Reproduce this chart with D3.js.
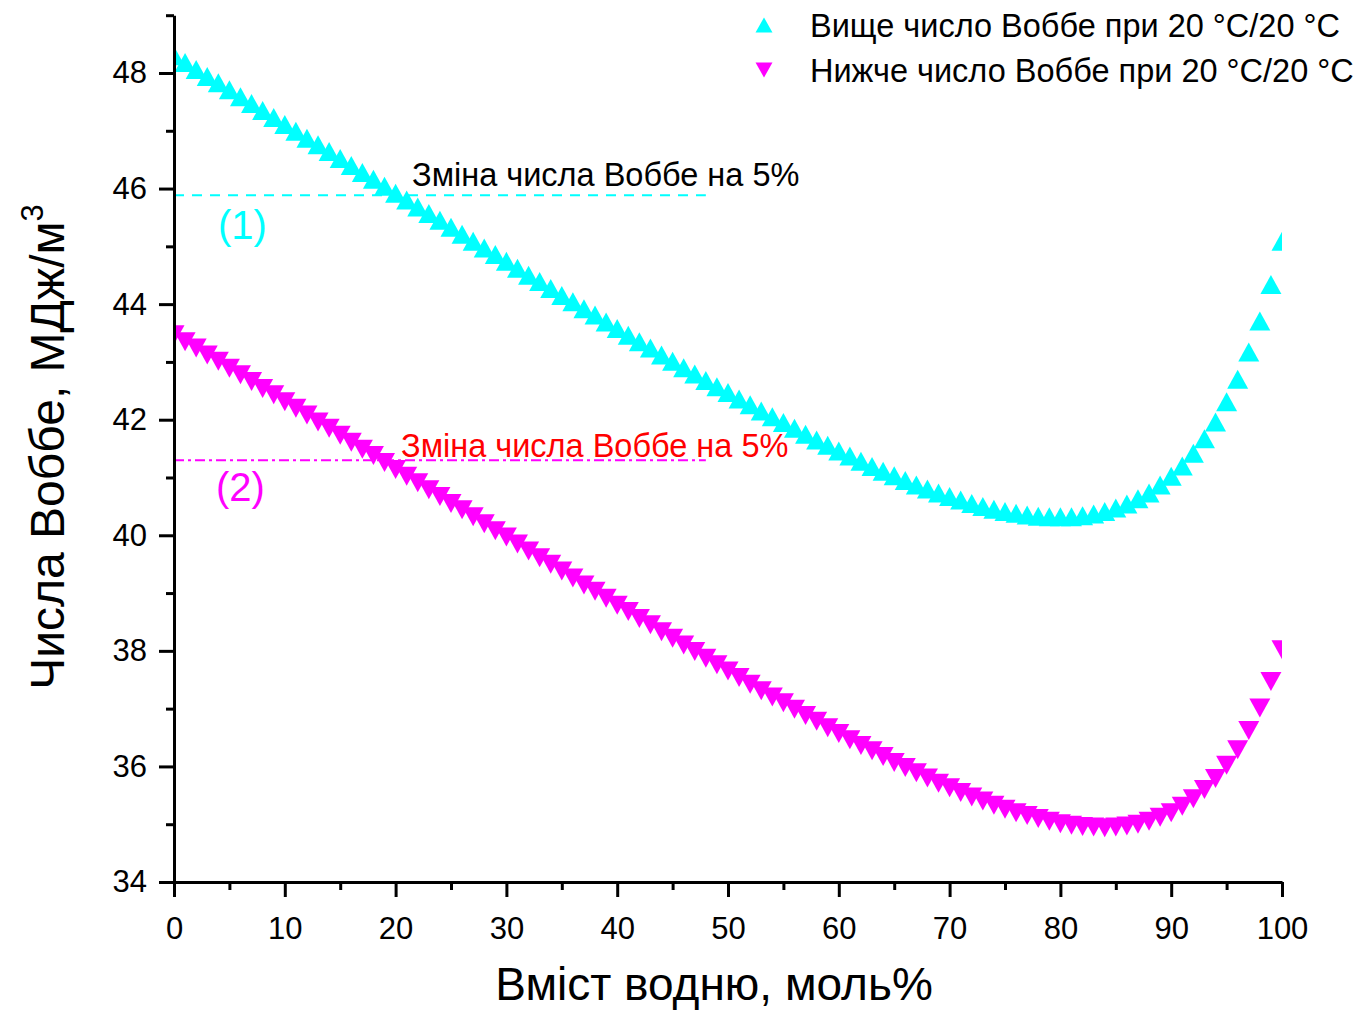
<!DOCTYPE html>
<html>
<head>
<meta charset="utf-8">
<script src="https://cdn.jsdelivr.net/npm/d3@7"></script>
<style>
  body { margin: 0; background: #fff; }
  svg { display: block; }
  text { font-family: "Liberation Sans", Arial, Helvetica, sans-serif; }
</style>
</head>
<body>
<svg id="chart" width="1358" height="1011"></svg>
<script>
// Hydrogen content in the mixture, mol%
const hydrogenContent = [
  0, 1, 2, 3, 4, 5, 6, 7, 8, 9, 10, 11, 12, 13, 14, 15, 16, 17, 18, 19,
  20, 21, 22, 23, 24, 25, 26, 27, 28, 29, 30, 31, 32, 33, 34, 35, 36, 37, 38, 39,
  40, 41, 42, 43, 44, 45, 46, 47, 48, 49, 50, 51, 52, 53, 54, 55, 56, 57, 58, 59,
  60, 61, 62, 63, 64, 65, 66, 67, 68, 69, 70, 71, 72, 73, 74, 75, 76, 77, 78, 79,
  80, 81, 82, 83, 84, 85, 86, 87, 88, 89, 90, 91, 92, 93, 94, 95, 96, 97, 98, 99, 100
];

// Superior (higher) Wobbe index at 20 °C/20 °C, MJ/m3
const wobbeUpper = [
  48.30, 48.18, 48.06, 47.94, 47.83, 47.71, 47.59, 47.47, 47.35, 47.23,
  47.11, 46.99, 46.87, 46.76, 46.64, 46.52, 46.40, 46.28, 46.16, 46.04,
  45.92, 45.80, 45.68, 45.57, 45.45, 45.33, 45.21, 45.09, 44.97, 44.86,
  44.74, 44.62, 44.50, 44.39, 44.27, 44.15, 44.04, 43.92, 43.81, 43.69,
  43.58, 43.46, 43.35, 43.24, 43.12, 43.01, 42.90, 42.79, 42.68, 42.57,
  42.47, 42.36, 42.26, 42.15, 42.05, 41.95, 41.85, 41.75, 41.65, 41.56,
  41.46, 41.37, 41.28, 41.19, 41.11, 41.03, 40.95, 40.87, 40.80, 40.73,
  40.67, 40.61, 40.55, 40.50, 40.45, 40.41, 40.38, 40.35, 40.33, 40.32,
  40.32, 40.32, 40.34, 40.37, 40.41, 40.47, 40.54, 40.63, 40.73, 40.87,
  41.02, 41.20, 41.42, 41.67, 41.96, 42.31, 42.70, 43.17, 43.71, 44.34,
  45.09
];

// Inferior (lower) Wobbe index at 20 °C/20 °C, MJ/m3
const wobbeLower = [
  43.47, 43.35, 43.24, 43.12, 43.01, 42.89, 42.78, 42.66, 42.54, 42.43,
  42.31, 42.20, 42.08, 41.96, 41.85, 41.73, 41.61, 41.49, 41.38, 41.26,
  41.14, 41.02, 40.91, 40.79, 40.67, 40.55, 40.44, 40.32, 40.20, 40.08,
  39.97, 39.85, 39.73, 39.61, 39.50, 39.38, 39.26, 39.14, 39.03, 38.91,
  38.79, 38.68, 38.56, 38.45, 38.33, 38.22, 38.10, 37.99, 37.87, 37.76,
  37.65, 37.54, 37.42, 37.31, 37.20, 37.10, 36.99, 36.88, 36.78, 36.67,
  36.57, 36.46, 36.36, 36.27, 36.17, 36.07, 35.98, 35.89, 35.80, 35.71,
  35.63, 35.55, 35.47, 35.40, 35.33, 35.26, 35.20, 35.15, 35.10, 35.05,
  35.01, 34.98, 34.96, 34.95, 34.94, 34.95, 34.97, 35.00, 35.05, 35.12,
  35.20, 35.31, 35.44, 35.60, 35.79, 36.02, 36.29, 36.62, 37.01, 37.47,
  38.02
];

const xTickValues = [0, 10, 20, 30, 40, 50, 60, 70, 80, 90, 100];
const xMinorTicks = [5, 15, 25, 35, 45, 55, 65, 75, 85, 95];
const yTickValues = [34, 36, 38, 40, 42, 44, 46, 48];
const yMinorTicks = [35, 37, 39, 41, 43, 45, 47, 49];

const legendLabels = [
  "Вище число Воббе при 20 °C/20 °C",
  "Нижче число Воббе при 20 °C/20 °C"
];
const changeLabel = "Зміна числа Воббе на 5%";
const changeFraction = 0.05;          // 5 % drop from the pure-gas value
const changeLineRange = [0, 48];      // extent of the reference lines, mol%
const curveTags = ["(1)", "(2)"];
const xTitle = "Вміст водню, моль%";
const yTitle = "Числа Воббе, МДж/м";

const colUpper = "#00FFFF";
const colLower = "#FF00FF";

const svg = d3.select("#chart");
const x = d3.scaleLinear().domain([0, 100]).range([174, 1282]);
const y = d3.scaleLinear().domain([34, 49]).range([882, 15.2]);

// plot-area clipping for the markers
svg.append("defs").append("clipPath").attr("id", "plotClip")
  .append("rect")
  .attr("x", x(0)).attr("y", y(49))
  .attr("width", x(100) - x(0)).attr("height", y(34) - y(49));

// 5 % reference lines
const refUpper = wobbeUpper[0] * (1 - changeFraction);
const refLower = wobbeLower[0] * (1 - changeFraction);

svg.append("line")
  .attr("x1", x(changeLineRange[0])).attr("x2", x(changeLineRange[1]))
  .attr("y1", y(refUpper)).attr("y2", y(refUpper))
  .attr("stroke", colUpper).attr("stroke-width", 2)
  .attr("stroke-dasharray", "10,8");

svg.append("line")
  .attr("x1", x(changeLineRange[0])).attr("x2", x(changeLineRange[1]))
  .attr("y1", y(refLower)).attr("y2", y(refLower))
  .attr("stroke", colLower).attr("stroke-width", 2)
  .attr("stroke-dasharray", "10,4,3,4");

// triangle marker paths
function triUp(w, h) { return `M0,${-h / 2}L${w / 2},${h / 2}L${-w / 2},${h / 2}Z`; }
function triDown(w, h) { return `M0,${h / 2}L${w / 2},${-h / 2}L${-w / 2},${-h / 2}Z`; }

const markers = svg.append("g").attr("clip-path", "url(#plotClip)");

markers.append("g").selectAll("path")
  .data(hydrogenContent.map((h, i) => [h, wobbeUpper[i]]))
  .join("path")
  .attr("d", triUp(21, 19))
  .attr("transform", d => `translate(${x(d[0])},${y(d[1])})`)
  .attr("fill", colUpper);

markers.append("g").selectAll("path")
  .data(hydrogenContent.map((h, i) => [h, wobbeLower[i]]))
  .join("path")
  .attr("d", triDown(21, 19))
  .attr("transform", d => `translate(${x(d[0])},${y(d[1])})`)
  .attr("fill", colLower);

// axes
function styleAxis(g) {
  g.select(".domain").attr("stroke", "#000").attr("stroke-width", 3);
  g.selectAll(".tick line").attr("stroke", "#000").attr("stroke-width", 3);
  g.selectAll(".tick text")
    .attr("fill", "#000")
    .attr("font-size", 31)
    .attr("font-family", '"Liberation Sans", Arial, sans-serif');
}

const xAxis = svg.append("g").attr("transform", `translate(0,${y(34)})`)
  .call(d3.axisBottom(x).tickValues(xTickValues).tickSize(15).tickSizeOuter(0).tickPadding(20).tickFormat(d3.format("d")));
styleAxis(xAxis);

const xMinor = svg.append("g").attr("transform", `translate(0,${y(34)})`)
  .call(d3.axisBottom(x).tickValues(xMinorTicks).tickSize(8).tickSizeOuter(0).tickFormat(""));
styleAxis(xMinor);
xMinor.select(".domain").remove();

const yAxis = svg.append("g").attr("transform", `translate(${x(0)},0)`)
  .call(d3.axisLeft(y).tickValues(yTickValues).tickSize(15).tickSizeOuter(0).tickPadding(12).tickFormat(d3.format("d")));
styleAxis(yAxis);

const yMinor = svg.append("g").attr("transform", `translate(${x(0)},0)`)
  .call(d3.axisLeft(y).tickValues(yMinorTicks).tickSize(8).tickSizeOuter(0).tickFormat(""));
styleAxis(yMinor);
yMinor.select(".domain").remove();

// axis titles
svg.append("text")
  .attr("x", 714).attr("y", 1000)
  .attr("text-anchor", "middle")
  .attr("font-size", 46)
  .text(xTitle);

const yt = svg.append("text")
  .attr("transform", "translate(64,447) rotate(-90)")
  .attr("text-anchor", "middle")
  .attr("font-size", 48);
yt.append("tspan").text(yTitle);
yt.append("tspan").attr("font-size", 31).attr("dy", -21).text("3");

// annotations
svg.append("text")
  .attr("x", 412).attr("y", 186)
  .attr("font-size", 32.5).attr("fill", "#000")
  .text(changeLabel);

svg.append("text")
  .attr("x", 401).attr("y", 457)
  .attr("font-size", 32.5).attr("fill", "#FF0000")
  .text(changeLabel);

svg.append("text")
  .attr("x", 218).attr("y", 239)
  .attr("font-size", 40).attr("fill", colUpper)
  .text(curveTags[0]);

svg.append("text")
  .attr("x", 216).attr("y", 501)
  .attr("font-size", 40).attr("fill", colLower)
  .text(curveTags[1]);

// legend
const legend = svg.append("g");
const legendRows = [
  { label: legendLabels[0], color: colUpper, shape: triUp(17, 15), cy: 25 },
  { label: legendLabels[1], color: colLower, shape: triDown(17, 15), cy: 70 }
];
legendRows.forEach(r => {
  legend.append("path")
    .attr("d", r.shape)
    .attr("transform", `translate(764,${r.cy})`)
    .attr("fill", r.color);
  legend.append("text")
    .attr("x", 810).attr("y", r.cy + 12)
    .attr("font-size", 32.5).attr("fill", "#000")
    .text(r.label);
});
</script>
</body>
</html>
